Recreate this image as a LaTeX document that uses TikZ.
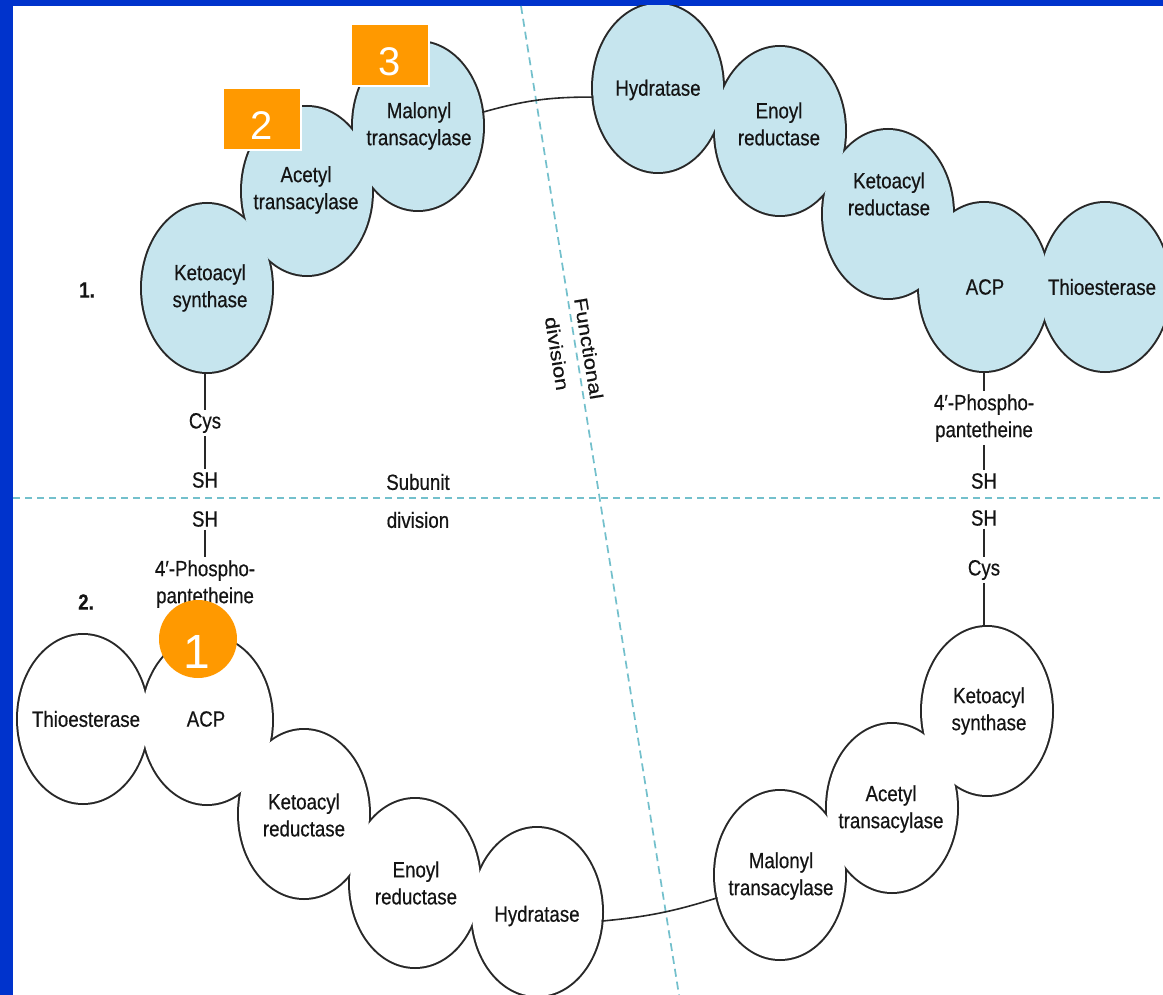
\documentclass[tikz,border=0pt]{standalone}
\usepackage{fontspec}
\setmainfont{Liberation Sans}[FakeStretch=0.85,FakeBold=0.5]
\newfontfamily\rotfont{Liberation Sans}[FakeStretch=1.19,FakeBold=0.5]
\newfontfamily\digfont{Liberation Sans}
\usetikzlibrary{shapes.geometric}
\definecolor{framecol}{RGB}{0,51,204}
\definecolor{enzfill}{RGB}{198,229,238}
\definecolor{outc}{RGB}{40,40,40}
\definecolor{dashc}{RGB}{115,192,204}
\definecolor{orng}{RGB}{255,153,0}
\pgfdeclarelayer{frame}
\pgfdeclarelayer{outl}
\pgfdeclarelayer{fil}
\pgfsetlayers{frame,outl,fil,main}
\begin{document}
\begin{tikzpicture}[x=1pt,y=1pt,
  enz/.style={shape=ellipse, minimum width=130pt, minimum height=168pt, inner sep=0pt, outer sep=0pt},
  lbl/.style={font=\fontsize{22}{27}\selectfont, align=center, text=black!92, inner sep=0pt},
  chain/.style={font=\fontsize{22}{27}\selectfont, align=center, text=black!92, inner sep=3pt},
  numlbl/.style={font=\fontsize{22}{27}\selectfont\bfseries, text=black!92, inner sep=0pt},
  conn/.style={draw=outc, line width=1.6pt},
  tick/.style={draw=outc, line width=1.4pt},
  divline/.style={draw=dashc, line width=2.6pt, dash pattern=on 7pt off 5pt},
  funcline/.style={draw=dashc, line width=1.7pt, dash pattern=on 8pt off 5pt},
  obox/.style={fill=orng, draw=white, line width=1.5pt, minimum width=78pt, minimum height=62pt, inner sep=0pt},
  ocirc/.style={shape=circle, fill=orng, minimum size=78pt, inner sep=0pt},
  odig/.style={text=white, inner sep=0pt}
]
\useasboundingbox (0,0) rectangle (1163,-995);
\begin{pgfonlayer}{frame}
  \fill[framecol] (0,0) rectangle (1163,-995);
  \fill[white] (13,-6) rectangle (1163,-995);
  \draw[divline] (13,-498) -- (1163,-498);
  \draw[funcline] (521,-6) -- (679,-995);
\end{pgfonlayer}

% enzyme domains, subunit 1 (top, shaded)
\node[enz] (ks1) at (207,-288) {};
\node[enz] (at1) at (307,-191) {};
\node[enz] (mt1) at (418,-126) {};
\node[enz] (hy1) at (658,-88) {};
\node[enz] (er1) at (780,-131) {};
\node[enz] (kr1) at (888,-214) {};
\node[enz] (acp1) at (984,-287) {};
\node[enz] (te1) at (1105,-287) {};
% enzyme domains, subunit 2 (bottom, white)
\node[enz] (te2) at (83,-719) {};
\node[enz] (acp2) at (207,-720) {};
\node[enz] (kr2) at (304,-814) {};
\node[enz] (er2) at (415,-883) {};
\node[enz] (hy2) at (537,-912) {};
\node[enz] (mt2) at (780,-875) {};
\node[enz] (at2) at (892,-808) {};
\node[enz] (ks2) at (987,-711) {};

\begin{pgfonlayer}{outl}
  \begin{scope}
    \clip (13,-6) rectangle (1163,-995);
    \foreach \n in {ks1,at1,mt1,hy1,er1,kr1,acp1,te1,te2,acp2,kr2,er2,hy2,mt2,at2,ks2}
      \draw[outc, line width=4pt] (\n.center) ellipse [x radius=65pt, y radius=84pt];
  \end{scope}
\end{pgfonlayer}
\begin{pgfonlayer}{fil}
  \begin{scope}
    \clip (13,-6) rectangle (1163,-995);
    \foreach \n in {ks1,at1,mt1,hy1,er1,kr1,acp1,te1}
      \fill[enzfill] (\n.center) ellipse [x radius=65pt, y radius=84pt];
    \foreach \n in {te2,acp2,kr2,er2,hy2,mt2,at2,ks2}
      \fill[white] (\n.center) ellipse [x radius=65pt, y radius=84pt];
  \end{scope}
\end{pgfonlayer}

% enzyme labels
\node[lbl] (t-ks1) at (210,-288) {Ketoacyl\\synthase};
\node[lbl] (t-at1) at (306,-190) {Acetyl\\transacylase};
\node[lbl] (t-mt1) at (419,-126) {Malonyl\\transacylase};
\node[lbl] (t-hy1) at (658,-90) {Hydratase};
\node[lbl] (t-er1) at (779,-124) {Enoyl\\reductase};
\node[lbl] (t-kr1) at (889,-194) {Ketoacyl\\reductase};
\node[lbl] (t-acp1) at (985,-287) {ACP};
\node[lbl] (t-te1) at (1102,-287) {Thioesterase};
\node[lbl] (t-te2) at (86,-719) {Thioesterase};
\node[lbl] (t-acp2) at (206,-719) {ACP};
\node[lbl] (t-kr2) at (304,-815) {Ketoacyl\\reductase};
\node[lbl] (t-er2) at (416,-883) {Enoyl\\reductase};
\node[lbl] (t-hy2) at (537,-916) {Hydratase};
\node[lbl] (t-mt2) at (781,-876) {Malonyl\\transacylase};
\node[lbl] (t-at2) at (891,-809) {Acetyl\\transacylase};
\node[lbl] (t-ks2) at (989,-711) {Ketoacyl\\synthase};

% linkers between the two halves of each subunit
\draw[conn] (mt1.12) to[bend left=8] (hy1.188);
\draw[conn] (hy2.-8) to[bend right=6] (mt2.200);

% thiol chains
\node[chain] (cysA) at (205,-423) {Cys};
\node[chain] (shA) at (205,-480) {SH};
\node[chain] (shB) at (205,-519) {SH};
\node[chain] (phA) at (205,-584) {4′-Phospho-\\pantetheine};
\node[chain] (phB) at (984,-418) {4′-Phospho-\\pantetheine};
\node[chain] (shC) at (984,-481) {SH};
\node[chain] (shD) at (984,-518) {SH};
\node[chain] (cysB) at (984,-570) {Cys};

\draw[tick] (cysA.north |- ks1.south) -- (cysA.north);
\draw[tick] (cysA.south) -- (shA.north);
\draw[tick] (shB.south) -- (phA.north);
\draw[tick] (phA.south) -- (phA.south |- acp2.north);
\draw[tick] (phB.north |- acp1.south) -- (phB.north);
\draw[tick] (phB.south) -- (shC.north);
\draw[tick] (shD.south) -- (cysB.north);
\draw[tick] (cysB.south) -- (cysB.south |- ks2.north);

% other labels
\node[numlbl] (n1) at (87,-290) {1.};
\node[numlbl] (n2) at (86,-602) {2.};
\node[lbl] (sub1) at (418,-482) {Subunit};
\node[lbl] (sub2) at (418,-520) {division};
\node[lbl, rotate=-80.8, font=\fontsize{18.7}{32}\rotfont] (func) at (573,-351) {Functional\\division};

% orange markers
\node[obox] (box3) at (390,-55) {};
\node[odig, font=\fontsize{40}{40}\digfont] (d3) at (390,-62) {3};
\node[obox] (box2) at (262,-119) {};
\node[odig, font=\fontsize{40}{40}\digfont] (d2) at (262,-126) {2};
\node[ocirc] (c1) at (198,-639) {};
\node[odig, font=\fontsize{48}{48}\digfont] (d1) at (197,-652) {1};
\end{tikzpicture}
\end{document}
